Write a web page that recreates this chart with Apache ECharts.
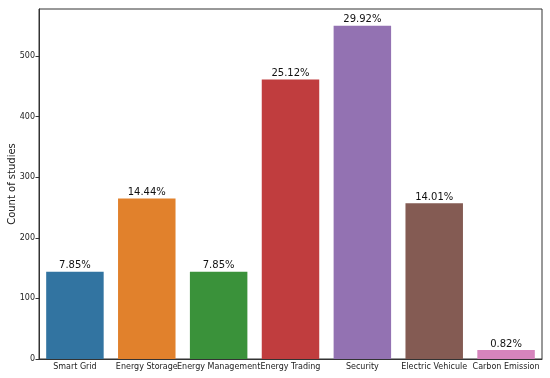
<!DOCTYPE html>
<html>
<head>
<meta charset="utf-8">
<script src="https://cdn.jsdelivr.net/npm/echarts@6/dist/echarts.min.js"></script>
<style>html,body{margin:0;padding:0;background:#fff}#c{width:550px;height:378px}</style>
</head>
<body>
<div id="c"></div>
<script>
const categories = ['Smart Grid','Energy Storage','Energy Management','Energy Trading','Security','Electric Vehicule','Carbon Emission'];
const counts = [144, 265, 144, 461, 550, 257, 15];
const percentLabels = ['7.85%','14.44%','7.85%','25.12%','29.92%','14.01%','0.82%'];
const colors = ['#3274a1','#e1812c','#3a923a','#c03d3e','#9372b2','#845b53','#d684bd'];
const yTitle = 'Count of studies';

const chart = echarts.init(document.getElementById('c'), null, {renderer:'canvas'});
const font = 'DejaVu Sans';
chart.setOption({
  animation: false,
  grid: {left: 39, right: 8, top: 9, bottom: 19, containLabel: false, outerBoundsMode: 'none', show: true, borderColor: '#333', borderWidth: 1, backgroundColor: 'transparent'},
  graphic: [{
    type: 'text', x: 12, y: 184, rotation: Math.PI / 2,
    style: {text: yTitle, fontFamily: font, fontSize: 10, fill: '#222', align: 'center', verticalAlign: 'middle'}
  }],
  xAxis: {
    type: 'category',
    data: categories,
    axisLine: {lineStyle: {color: '#333', width: 1}},
    axisTick: {alignWithLabel: true, length: 3.5, lineStyle: {color: '#333'}},
    axisLabel: {fontFamily: font, fontSize: 8, color: '#222', margin: 4, interval: 0}
  },
  yAxis: {
    type: 'value',
    min: 0, max: 577.5, interval: 100,
    splitLine: {show: false},
    axisLine: {show: true, lineStyle: {color: '#333', width: 1}},
    axisTick: {show: true, length: 3.5, lineStyle: {color: '#333'}},
    axisLabel: {fontFamily: font, fontSize: 8, color: '#222', margin: 4, showMaxLabel: false}
  },
  series: [{
    type: 'bar',
    data: counts.map((v, i) => ({value: v, itemStyle: {color: colors[i]}})),
    barCategoryGap: '20%',
    label: {
      show: true, position: 'top', distance: 1,
      fontFamily: font, fontSize: 10, color: '#111',
      formatter: p => percentLabels[p.dataIndex]
    }
  }]
});
</script>
</body>
</html>
